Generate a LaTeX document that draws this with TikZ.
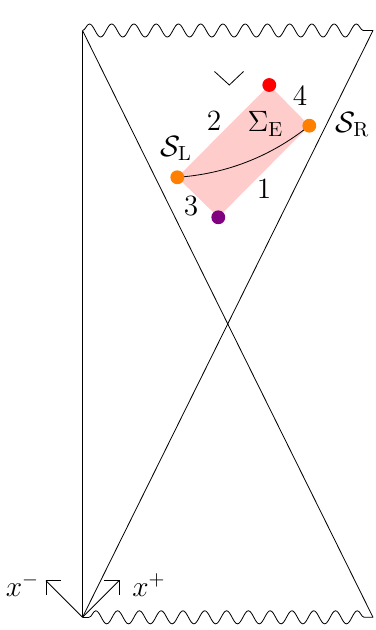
\documentclass[tikz,border=0pt]{standalone}
\usetikzlibrary{decorations.pathmorphing}
\definecolor{dotpurple}{RGB}{128,0,128}
\begin{document}
\begin{tikzpicture}[x=0.49pt,y=-0.49pt,
  dot/.style={circle,inner sep=0pt,minimum size=6.8pt},
  lbl/.style={anchor=base,inner sep=0pt,font=\Large},
  wavy/.style={decorate,decoration={snake,amplitude=3.2pt,segment length=#1}},
  region/.style={fill=red!20},
]
\useasboundingbox (0,0) rectangle (375,630);
% Penrose corners
\coordinate (TL) at (82.5,30.5);
\coordinate (TR) at (373,30.5);
\coordinate (BL) at (82.5,617.3);
\coordinate (BR) at (373,617.3);
\coordinate (BW) at (89,617.3);
% boundaries
\draw (TL) -- (BL);
\draw (TL) -- (BR);
\draw (BL) -- (TR);
\draw[wavy=10.9pt] (TL) -- (TR);
\draw (BL) -- (BW);
\draw[wavy=10.68pt] (BW) -- (BR);
% region
\coordinate (pL) at (177.3,177.3);
\coordinate (pT) at (269.3,85);
\coordinate (pR) at (309.3,125.7);
\coordinate (pB) at (218.3,217.3);
\fill[region] (pL) -- (pT) -- (pR) -- (pB) -- cycle;
\draw (pL) .. controls (226.6,173.8) and (270.6,156.6) .. (pR);
\node[dot,fill=orange] (dL) at (pL) {};
\node[dot,fill=orange] (dR) at (pR) {};
\node[dot,fill=red] (dT) at (pT) {};
\node[dot,fill=dotpurple] (dB) at (pB) {};
% chevron
\coordinate (c1) at (214.5,71.5);
\coordinate (c2) at (229.3,85);
\coordinate (c3) at (243.5,71.5);
\draw (c1) -- (c2) -- (c3);
% light-cone axes
\coordinate (xm) at (46,580.7);
\coordinate (xmh) at (60.7,580.7);
\coordinate (xmv) at (46,595);
\coordinate (xp) at (119,580.7);
\coordinate (xph) at (104.3,580.7);
\coordinate (xpv) at (119,595);
\draw (BL) -- (xm);
\draw (xmh) -- (xm) -- (xmv);
\draw (BL) -- (xp);
\draw (xph) -- (xp) -- (xpv);
% labels
\node[lbl] (lxm) at (22.5,596) {$x^-$};
\node[lbl] (lxp) at (149,596) {$x^+$};
\node[lbl] (l2) at (214,130) {2};
\node[lbl] (l4) at (300,105) {4};
\node[lbl] (l1) at (264,198) {1};
\node[lbl] (l3) at (191,215) {3};
\node[lbl] (lSE) at (265.5,131.7) {$\Sigma_{\mathrm{E}}$};
\node[lbl] (lSL) at (176,156) {$\mathcal{S}_{\mathrm{L}}$};
\node[lbl] (lSR) at (352.5,132) {$\mathcal{S}_{\mathrm{R}}$};
\end{tikzpicture}
\end{document}
